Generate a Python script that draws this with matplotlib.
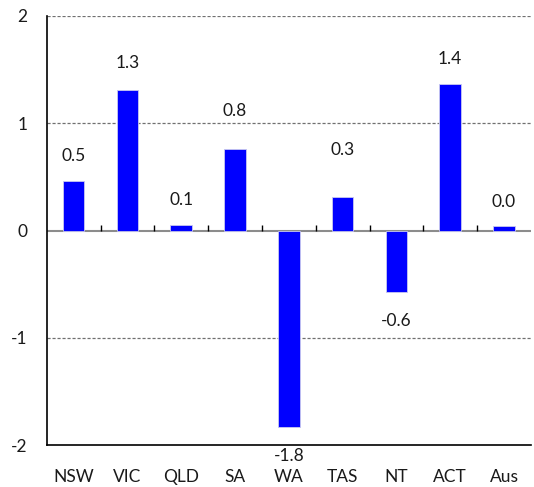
import matplotlib
matplotlib.use("Agg")
import matplotlib.pyplot as plt
import numpy as np

categories = ["NSW", "VIC", "QLD", "SA", "WA", "TAS", "NT", "ACT", "Aus"]
values = [0.46, 1.31, 0.05, 0.76, -1.83, 0.31, -0.57, 1.37, 0.04]
labels = ["0.5", "1.3", "0.1", "0.8", "-1.8", "0.3", "-0.6", "1.4", "0.0"]
yticks = [-2, -1, 0, 1, 2]

# label offsets (pixels, from bar end)
label_offsets = [25, 27, 25, 38, 29, 47, 29, 25, 24]

plt.rcParams['font.family'] = ['Lato', 'DejaVu Sans']

fig = plt.figure(figsize=(5.34, 4.87), dpi=100)
ax = fig.add_axes([46.7 / 534, 1 - 445 / 487, 484.2 / 534, 429 / 487])

x = np.arange(len(categories))
ax.bar(x, values, width=0.4, color="#0000FF", edgecolor="#C8C8F0", linewidth=0.6, zorder=3)

ax.set_xlim(-0.5, len(categories) - 0.5)
ax.set_ylim(-2, 2)

# gridlines
for yv in [-1, 1, 2]:
    ax.axhline(yv, color="#707070", linestyle=(0, (2.5, 1.5)), linewidth=0.9, zorder=1)
ax.axhline(0, color="#8C8C8C", linewidth=1.5, zorder=2)
# category boundary ticks on zero line
bounds = x[:-1] + 0.5
ax.vlines(bounds, 0, 0.055, color="black", linewidth=1.0, zorder=4)

for xi, v, lab, off in zip(x, values, labels, label_offsets):
    sign = 1 if v >= 0 else -1
    ax.annotate(lab, (xi, v), xytext=(0, sign * off), textcoords="offset pixels",
                ha="center", va="center", fontsize=12.5, color="#1a1a1a", zorder=5)

ax.set_yticks(yticks)
ax.set_yticklabels([str(t) for t in yticks])
ax.set_xticks(x)
ax.set_xticklabels(categories)
ax.tick_params(axis="y", length=0, pad=14, labelsize=12.5, labelcolor="#1a1a1a")
ax.tick_params(axis="x", length=0, pad=17, labelsize=12.5, labelcolor="#1a1a1a")

for s in ["top", "right"]:
    ax.spines[s].set_visible(False)
ax.spines["left"].set_color("black")
ax.spines["bottom"].set_color("black")
ax.spines["left"].set_linewidth(1.2)
ax.spines["bottom"].set_linewidth(1.2)

fig.savefig("out.png", dpi=100)
